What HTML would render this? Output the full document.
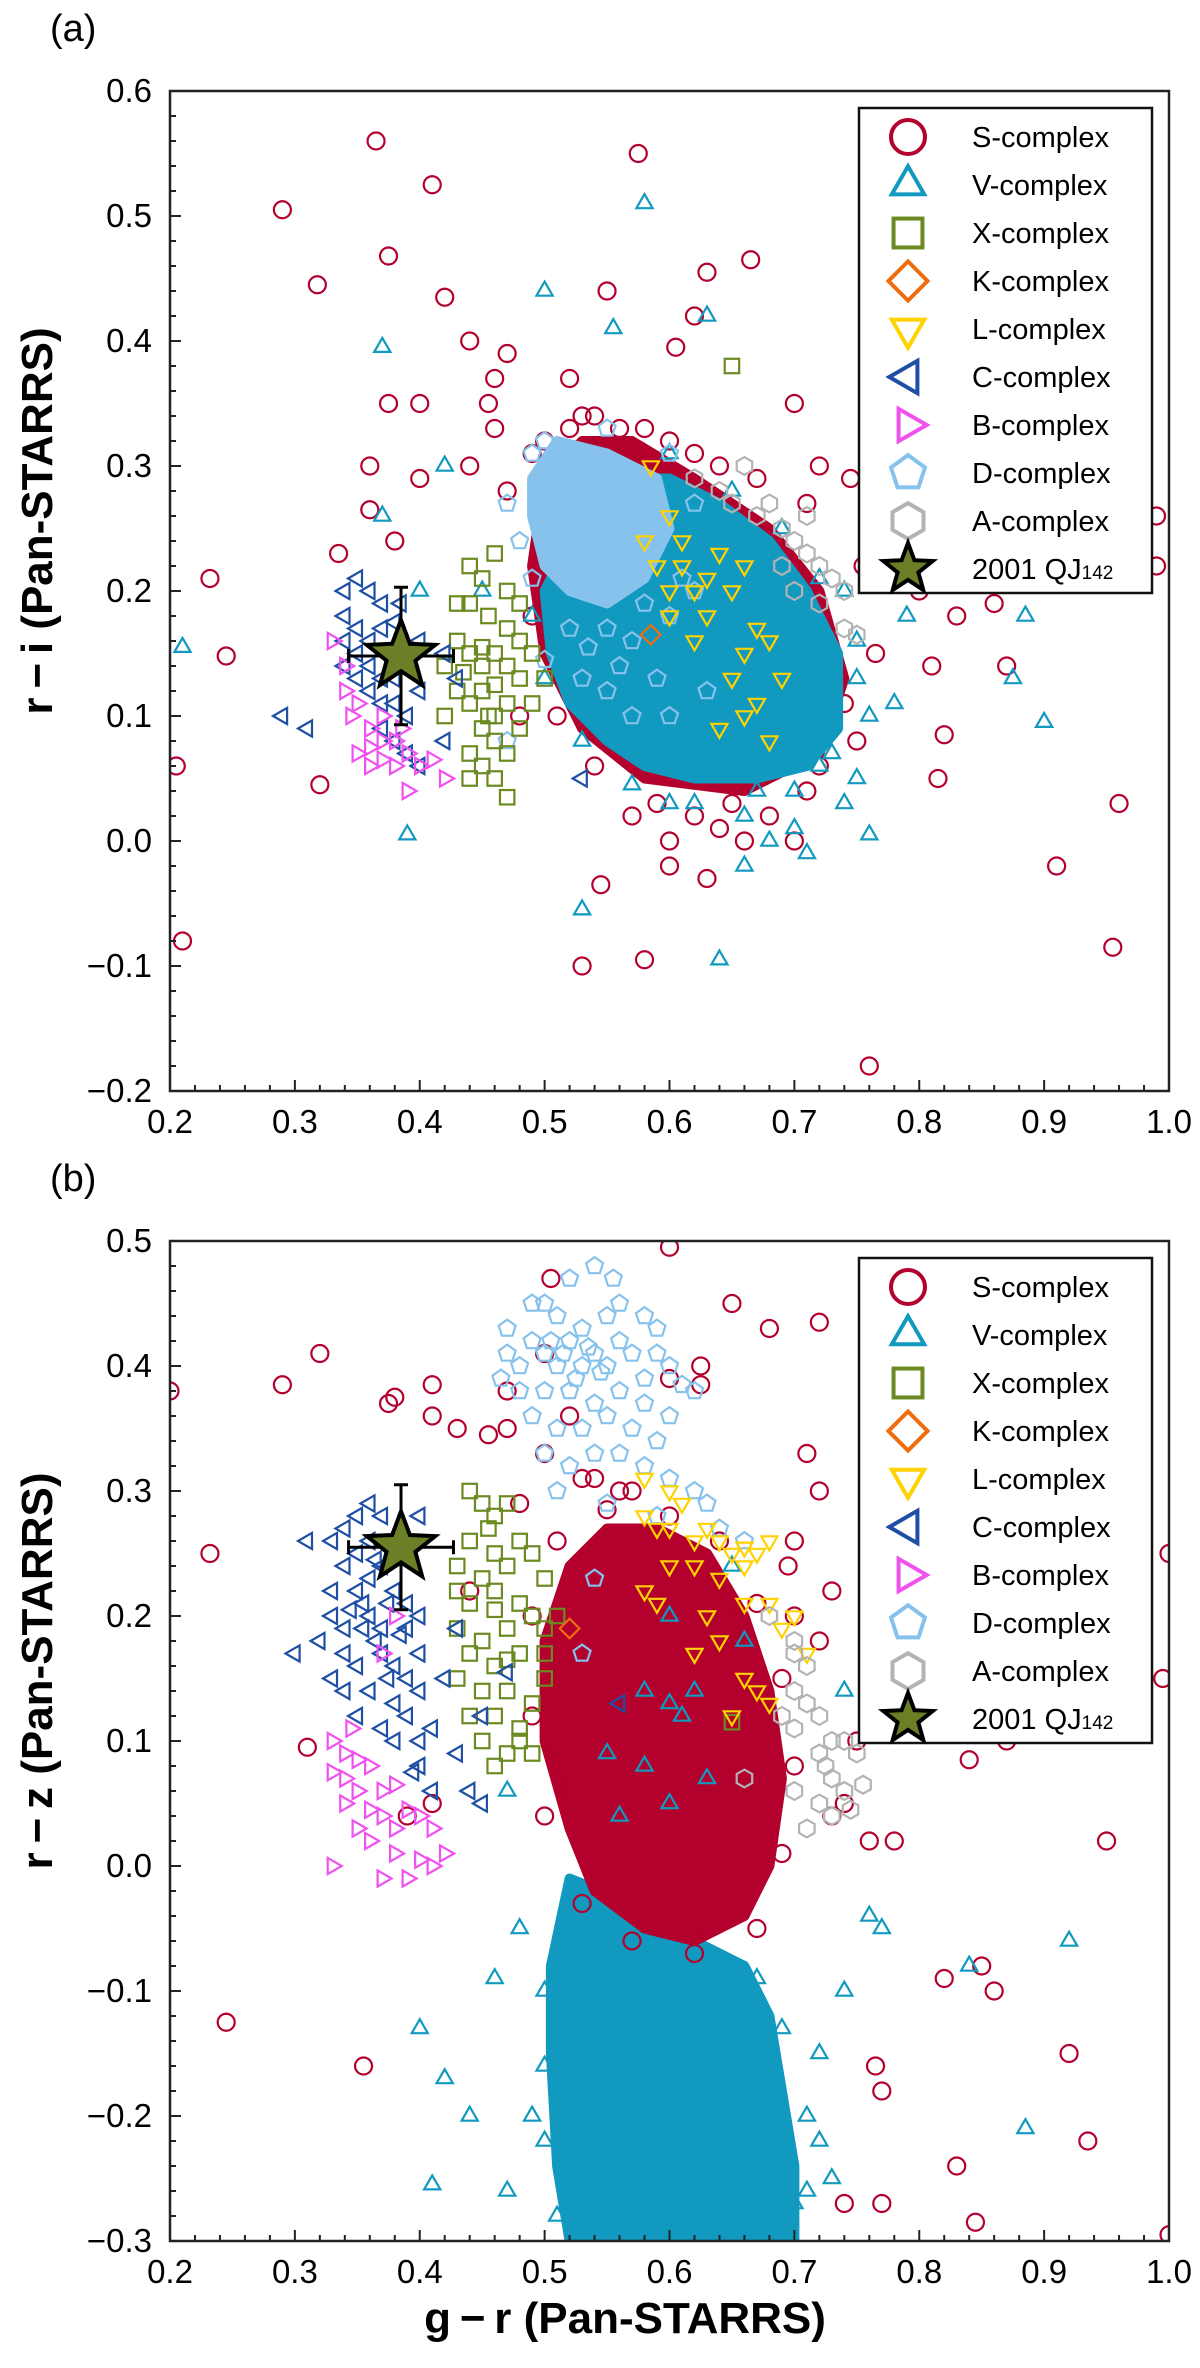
<!DOCTYPE html>
<html><head><meta charset="utf-8"><style>
html,body{margin:0;padding:0;background:#fff;}
svg{display:block;font-family:"Liberation Sans",Arial,sans-serif;}
</style></head><body>
<svg id="fig" width="1200" height="2368" viewBox="0 0 1200 2368" xmlns="http://www.w3.org/2000/svg"></svg>
<script>
// ---------- Panel (a) data: g-r vs r-i ----------
const sDenseA=[[0.5,0.29],[0.53,0.32],[0.57,0.32],[0.62,0.29],[0.68,0.25],[0.72,0.2],[0.74,0.13],[0.72,0.07],[0.66,0.04],[0.58,0.05],[0.53,0.09],[0.5,0.15],[0.49,0.22]];
const vDenseA=[[0.51,0.22],[0.54,0.26],[0.57,0.29],[0.6,0.29],[0.64,0.27],[0.68,0.24],[0.71,0.2],[0.735,0.15],[0.735,0.09],[0.71,0.06],[0.67,0.05],[0.62,0.05],[0.58,0.06],[0.55,0.08],[0.52,0.11],[0.505,0.15],[0.5,0.2]];
const dDenseA=[[0.49,0.29],[0.51,0.32],[0.55,0.31],[0.59,0.29],[0.6,0.25],[0.58,0.21],[0.55,0.19],[0.52,0.2],[0.5,0.22],[0.49,0.26]];
const sA=[[0.365,0.56],[0.29,0.505],[0.41,0.525],[0.575,0.55],[0.375,0.468],[0.318,0.445],[0.42,0.435],[0.63,0.455],[0.665,0.465],[0.205,0.06],[0.21,-0.08],[0.245,0.148],[0.232,0.21],[0.32,0.045],[0.335,0.23],[0.36,0.265],[0.4,0.29],[0.55,0.44],[0.62,0.42],[0.605,0.395],[0.47,0.39],[0.46,0.37],[0.44,0.4],[0.52,0.37],[0.53,0.34],[0.7,0.35],[0.72,0.3],[0.76,0.25],[0.78,0.24],[0.8,0.2],[0.83,0.18],[0.86,0.19],[0.87,0.14],[0.81,0.14],[0.82,0.085],[0.815,0.05],[0.96,0.03],[0.91,-0.02],[0.955,-0.085],[0.76,-0.18],[0.99,0.22],[0.99,0.26],[0.53,-0.1],[0.58,-0.095],[0.545,-0.035],[0.63,-0.03],[0.66,0.0],[0.6,0.0],[0.38,0.24],[0.48,0.1],[0.7,0.13],[0.73,0.15],[0.74,0.11],[0.375,0.35],[0.36,0.3],[0.44,0.3],[0.455,0.35],[0.46,0.33],[0.47,0.28],[0.49,0.31],[0.4,0.35],[0.745,0.29],[0.72,0.06],[0.68,0.02],[0.57,0.02],[0.5,0.32],[0.52,0.33],[0.54,0.34],[0.56,0.33],[0.58,0.33],[0.6,0.32],[0.62,0.31],[0.64,0.3],[0.67,0.29],[0.71,0.27],[0.755,0.22],[0.765,0.15],[0.75,0.08],[0.71,0.04],[0.65,0.03],[0.62,0.02],[0.59,0.03],[0.54,0.06],[0.51,0.1],[0.49,0.18],[0.53,0.3],[0.55,0.31],[0.57,0.31],[0.64,0.01],[0.7,0.0],[0.6,-0.02]];
const vA=[[0.21,0.155],[0.37,0.395],[0.58,0.51],[0.39,0.005],[0.53,-0.055],[0.64,-0.095],[0.76,0.005],[0.9,0.095],[0.875,0.13],[0.885,0.18],[0.5,0.44],[0.555,0.41],[0.63,0.42],[0.37,0.26],[0.42,0.3],[0.4,0.2],[0.45,0.2],[0.7,0.01],[0.74,0.03],[0.79,0.18],[0.75,0.05],[0.72,0.06],[0.68,0.0],[0.66,-0.02],[0.6,0.03],[0.71,-0.01],[0.78,0.11],[0.52,0.24],[0.55,0.28],[0.6,0.31],[0.65,0.28],[0.69,0.25],[0.72,0.21],[0.75,0.16],[0.76,0.1],[0.73,0.07],[0.67,0.04],[0.62,0.03],[0.57,0.045],[0.53,0.08],[0.5,0.13],[0.49,0.18],[0.74,0.2],[0.75,0.13],[0.66,0.02],[0.7,0.04]];
const xA=[[0.44,0.22],[0.45,0.21],[0.46,0.23],[0.47,0.2],[0.44,0.19],[0.455,0.18],[0.47,0.17],[0.48,0.16],[0.43,0.16],[0.44,0.15],[0.45,0.14],[0.46,0.15],[0.47,0.14],[0.48,0.13],[0.43,0.12],[0.44,0.11],[0.45,0.12],[0.46,0.1],[0.47,0.11],[0.45,0.09],[0.46,0.08],[0.44,0.07],[0.45,0.06],[0.46,0.05],[0.44,0.05],[0.47,0.035],[0.42,0.1],[0.42,0.14],[0.43,0.19],[0.49,0.15],[0.49,0.11],[0.5,0.13],[0.48,0.19],[0.45,0.155],[0.46,0.125],[0.65,0.38],[0.435,0.135],[0.455,0.1],[0.47,0.07],[0.48,0.09]];
const kA=[[0.585,0.165]];
const lA=[[0.585,0.3],[0.6,0.26],[0.58,0.24],[0.61,0.24],[0.59,0.22],[0.6,0.2],[0.62,0.2],[0.63,0.21],[0.64,0.23],[0.6,0.18],[0.63,0.18],[0.65,0.2],[0.66,0.22],[0.67,0.17],[0.66,0.15],[0.68,0.16],[0.65,0.13],[0.66,0.1],[0.67,0.11],[0.69,0.13],[0.68,0.08],[0.64,0.09],[0.62,0.16],[0.61,0.22]];
const cA=[[0.34,0.2],[0.35,0.21],[0.36,0.2],[0.37,0.19],[0.34,0.18],[0.35,0.17],[0.36,0.16],[0.37,0.17],[0.38,0.15],[0.34,0.14],[0.35,0.13],[0.36,0.12],[0.37,0.13],[0.38,0.11],[0.39,0.1],[0.37,0.09],[0.38,0.08],[0.39,0.07],[0.4,0.06],[0.39,0.14],[0.4,0.12],[0.36,0.14],[0.35,0.15],[0.38,0.13],[0.34,0.16],[0.385,0.19],[0.4,0.16],[0.29,0.1],[0.31,0.09],[0.42,0.08],[0.43,0.13],[0.53,0.05],[0.42,0.15],[0.38,0.175],[0.37,0.11]];
const bA=[[0.33,0.16],[0.34,0.14],[0.34,0.12],[0.35,0.11],[0.36,0.09],[0.37,0.1],[0.38,0.08],[0.39,0.07],[0.35,0.07],[0.36,0.06],[0.37,0.065],[0.38,0.06],[0.4,0.06],[0.41,0.065],[0.42,0.05],[0.39,0.04],[0.345,0.1],[0.36,0.075],[0.37,0.08],[0.385,0.09]];
const dA=[[0.49,0.31],[0.53,0.13],[0.55,0.12],[0.57,0.1],[0.6,0.18],[0.62,0.2],[0.63,0.12],[0.6,0.1],[0.47,0.08],[0.5,0.145],[0.56,0.14],[0.59,0.13],[0.535,0.155],[0.47,0.27],[0.5,0.32],[0.55,0.33],[0.6,0.31],[0.62,0.27],[0.61,0.21],[0.57,0.16],[0.52,0.17],[0.49,0.21],[0.48,0.24],[0.55,0.17],[0.58,0.19]];
const aA=[[0.62,0.29],[0.64,0.28],[0.66,0.3],[0.67,0.26],[0.68,0.27],[0.69,0.25],[0.7,0.24],[0.71,0.23],[0.72,0.22],[0.73,0.21],[0.74,0.2],[0.7,0.2],[0.72,0.19],[0.74,0.17],[0.75,0.165],[0.65,0.27],[0.69,0.22],[0.71,0.26]];
const starA=[0.385,0.148]; const starErrA=[0.042,0.055];

// ---------- Panel (b) data: g-r vs r-z ----------
const sDenseB=[[0.52,0.24],[0.55,0.27],[0.59,0.27],[0.63,0.25],[0.66,0.2],[0.68,0.14],[0.69,0.07],[0.68,0.0],[0.66,-0.04],[0.62,-0.06],[0.58,-0.05],[0.54,-0.02],[0.52,0.03],[0.5,0.1],[0.5,0.18]];
const vDenseB=[[0.52,-0.01],[0.57,-0.03],[0.62,-0.06],[0.66,-0.08],[0.68,-0.12],[0.69,-0.18],[0.7,-0.24],[0.7,-0.3],[0.52,-0.3],[0.51,-0.24],[0.505,-0.15],[0.505,-0.08]];
const sB=[[0.2,0.38],[0.232,0.25],[0.245,-0.125],[0.29,0.385],[0.32,0.41],[0.355,-0.16],[0.31,0.095],[0.375,0.37],[0.38,0.375],[0.41,0.385],[0.43,0.35],[0.455,0.345],[0.47,0.35],[0.41,0.36],[0.5,0.41],[0.505,0.47],[0.6,0.495],[0.625,0.4],[0.625,0.385],[0.65,0.45],[0.68,0.43],[0.71,0.33],[0.72,0.30],[0.73,0.22],[0.75,0.1],[0.74,0.05],[0.76,0.02],[0.78,0.02],[0.8,0.13],[0.85,0.145],[0.84,0.085],[0.87,0.1],[0.9,0.17],[0.95,0.02],[1.0,0.25],[0.995,0.15],[0.92,-0.15],[0.935,-0.22],[0.86,-0.1],[0.85,-0.08],[0.82,-0.09],[0.83,-0.24],[0.845,-0.285],[0.77,-0.27],[0.74,-0.27],[0.765,-0.16],[0.77,-0.18],[0.72,0.435],[0.6,0.39],[0.54,0.31],[0.56,0.3],[0.48,0.29],[0.5,0.33],[0.52,0.36],[0.53,0.31],[0.57,0.3],[0.47,0.38],[0.7,0.26],[0.7,0.2],[0.72,0.18],[0.44,0.22],[0.41,0.05],[0.39,0.04],[0.73,0.04],[0.76,0.13],[0.695,0.24],[1.0,-0.295],[0.51,0.26],[0.55,0.285],[0.6,0.28],[0.64,0.26],[0.67,0.21],[0.69,0.15],[0.7,0.08],[0.69,0.01],[0.67,-0.05],[0.62,-0.07],[0.57,-0.06],[0.53,-0.03],[0.5,0.04],[0.49,0.12],[0.49,0.2]];
const vB=[[0.55,0.09],[0.6,0.2],[0.58,0.14],[0.61,0.12],[0.58,0.08],[0.63,0.07],[0.56,0.04],[0.6,0.05],[0.62,0.14],[0.6,0.13],[0.4,-0.13],[0.42,-0.17],[0.44,-0.2],[0.41,-0.255],[0.46,-0.09],[0.48,-0.05],[0.47,0.06],[0.74,-0.1],[0.76,-0.04],[0.77,-0.05],[0.84,-0.08],[0.885,-0.21],[0.92,-0.06],[0.72,-0.22],[0.73,-0.25],[0.65,0.24],[0.66,0.18],[0.74,0.14],[0.72,-0.15],[0.7,-0.27],[0.49,-0.2],[0.47,-0.26],[0.5,-0.1],[0.5,-0.16],[0.5,-0.22],[0.51,-0.28],[0.71,-0.2],[0.71,-0.26],[0.69,-0.13],[0.67,-0.09],[0.52,-0.04]];
const xB=[[0.44,0.3],[0.45,0.29],[0.46,0.28],[0.47,0.29],[0.455,0.27],[0.44,0.26],[0.46,0.25],[0.48,0.26],[0.49,0.25],[0.43,0.24],[0.45,0.23],[0.47,0.24],[0.5,0.23],[0.43,0.22],[0.44,0.21],[0.46,0.22],[0.48,0.21],[0.49,0.2],[0.5,0.19],[0.43,0.19],[0.45,0.18],[0.47,0.19],[0.44,0.17],[0.46,0.16],[0.48,0.17],[0.5,0.15],[0.43,0.15],[0.45,0.14],[0.47,0.14],[0.49,0.13],[0.44,0.12],[0.46,0.12],[0.48,0.11],[0.45,0.1],[0.47,0.09],[0.46,0.08],[0.48,0.1],[0.49,0.09],[0.51,0.2],[0.5,0.17],[0.65,0.115],[0.46,0.205],[0.47,0.165]];
const kB=[[0.52,0.19]];
const lB=[[0.58,0.31],[0.6,0.3],[0.61,0.29],[0.58,0.28],[0.59,0.27],[0.6,0.27],[0.62,0.26],[0.63,0.27],[0.64,0.26],[0.65,0.25],[0.66,0.255],[0.67,0.25],[0.68,0.26],[0.6,0.24],[0.62,0.24],[0.64,0.23],[0.66,0.24],[0.58,0.22],[0.59,0.21],[0.63,0.2],[0.64,0.18],[0.66,0.15],[0.67,0.14],[0.68,0.21],[0.7,0.2],[0.69,0.19],[0.68,0.13],[0.71,0.17],[0.65,0.12],[0.66,0.21],[0.62,0.17]];
const cB=[[0.35,0.28],[0.36,0.29],[0.37,0.28],[0.34,0.27],[0.36,0.26],[0.33,0.26],[0.31,0.26],[0.35,0.25],[0.37,0.24],[0.38,0.26],[0.34,0.24],[0.33,0.22],[0.35,0.22],[0.36,0.23],[0.38,0.22],[0.39,0.21],[0.33,0.2],[0.34,0.19],[0.36,0.2],[0.37,0.19],[0.39,0.19],[0.4,0.2],[0.32,0.18],[0.34,0.17],[0.35,0.16],[0.37,0.17],[0.38,0.16],[0.39,0.15],[0.4,0.17],[0.33,0.15],[0.34,0.14],[0.36,0.14],[0.38,0.13],[0.4,0.14],[0.35,0.12],[0.37,0.11],[0.39,0.12],[0.4,0.1],[0.41,0.11],[0.38,0.1],[0.4,0.08],[0.395,0.075],[0.3,0.17],[0.42,0.15],[0.43,0.19],[0.41,0.06],[0.43,0.09],[0.44,0.06],[0.45,0.05],[0.45,0.12],[0.47,0.155],[0.4,0.28],[0.355,0.21],[0.365,0.18],[0.375,0.15],[0.355,0.19],[0.375,0.21],[0.365,0.245],[0.385,0.185],[0.345,0.205],[0.56,0.13]];
const bB=[[0.33,0.1],[0.34,0.09],[0.35,0.085],[0.36,0.08],[0.33,0.075],[0.34,0.07],[0.35,0.06],[0.37,0.06],[0.38,0.065],[0.34,0.05],[0.36,0.045],[0.37,0.04],[0.38,0.03],[0.39,0.045],[0.4,0.04],[0.41,0.03],[0.42,0.01],[0.36,0.02],[0.38,0.01],[0.4,0.005],[0.41,0.0],[0.35,0.03],[0.33,0.0],[0.37,-0.01],[0.39,-0.01],[0.345,0.11],[0.38,0.2],[0.37,0.17]];
const dB=[[0.54,0.48],[0.52,0.47],[0.555,0.47],[0.49,0.45],[0.5,0.45],[0.56,0.45],[0.58,0.44],[0.47,0.43],[0.51,0.44],[0.53,0.43],[0.55,0.44],[0.59,0.43],[0.47,0.41],[0.48,0.4],[0.49,0.42],[0.5,0.41],[0.51,0.4],[0.52,0.42],[0.53,0.4],[0.54,0.41],[0.55,0.4],[0.56,0.42],[0.57,0.41],[0.58,0.39],[0.59,0.41],[0.6,0.4],[0.61,0.385],[0.62,0.38],[0.465,0.39],[0.48,0.38],[0.5,0.38],[0.52,0.38],[0.54,0.37],[0.56,0.38],[0.58,0.37],[0.6,0.36],[0.49,0.36],[0.51,0.35],[0.53,0.35],[0.55,0.36],[0.57,0.35],[0.59,0.34],[0.5,0.33],[0.52,0.32],[0.54,0.33],[0.56,0.33],[0.58,0.32],[0.6,0.31],[0.62,0.3],[0.63,0.29],[0.51,0.3],[0.55,0.29],[0.59,0.28],[0.64,0.27],[0.66,0.26],[0.54,0.23],[0.53,0.17],[0.505,0.42],[0.525,0.39],[0.545,0.395],[0.535,0.415],[0.515,0.41]];
const aB=[[0.68,0.2],[0.7,0.18],[0.7,0.17],[0.71,0.16],[0.7,0.14],[0.71,0.13],[0.69,0.12],[0.72,0.12],[0.73,0.1],[0.7,0.11],[0.72,0.09],[0.74,0.1],[0.73,0.07],[0.74,0.06],[0.75,0.09],[0.72,0.05],[0.73,0.04],[0.7,0.06],[0.71,0.03],[0.66,0.07],[0.725,0.08],[0.745,0.045],[0.755,0.065]];
const starB=[0.385,0.255]; const starErrB=[0.042,0.05];

const xTicks=[0.2,0.3,0.4,0.5,0.6,0.7,0.8,0.9,1.0];
const xTickLabels=["0.2","0.3","0.4","0.5","0.6","0.7","0.8","0.9","1.0"];
const yTicksA=[0.6,0.5,0.4,0.3,0.2,0.1,0.0,-0.1,-0.2];
const yTickLabelsA=["0.6","0.5","0.4","0.3","0.2","0.1","0.0","\u22120.1","\u22120.2"];
const yTicksB=[0.5,0.4,0.3,0.2,0.1,0.0,-0.1,-0.2,-0.3];
const yTickLabelsB=["0.5","0.4","0.3","0.2","0.1","0.0","\u22120.1","\u22120.2","\u22120.3"];
const legendNames=["S-complex","V-complex","X-complex","K-complex","L-complex","C-complex","B-complex","D-complex","A-complex"];

const NS="http://www.w3.org/2000/svg";
const svg=document.getElementById('fig');
const COL={S:"#b3002d",V:"#1199bf",X:"#6b8a22",K:"#ef6c0f",L:"#ffd200",C:"#1e4fa4",B:"#f052f0",D:"#86c2ec",A:"#b3b3b3",star:"#6b7f26"};
const SHAPE={S:"circle",V:"tup",X:"square",K:"diamond",L:"tdown",C:"tleft",B:"tright",D:"pent",A:"hex"};

function el(tag,attrs,parent){const e=document.createElementNS(NS,tag);for(const k in attrs)e.setAttribute(k,attrs[k]);(parent||svg).appendChild(e);return e;}
function poly(n,r,rot){const p=[];for(let i=0;i<n;i++){const a=rot+i*2*Math.PI/n;p.push([r*Math.cos(a),r*Math.sin(a)]);}return p;}
function marker(shape,cx,cy,r,color,sw,parent){
  let e;
  const pts=a=>a.map(p=>(cx+p[0]).toFixed(1)+","+(cy+p[1]).toFixed(1)).join(" ");
  if(shape==="circle")e=el('circle',{cx:cx,cy:cy,r:r},parent);
  else if(shape==="square")e=el('rect',{x:cx-r*0.85,y:cy-r*0.85,width:r*1.7,height:r*1.7},parent);
  else if(shape==="diamond")e=el('polygon',{points:pts([[0,-r*1.15],[r*1.15,0],[0,r*1.15],[-r*1.15,0]])},parent);
  else if(shape==="tup")e=el('polygon',{points:pts(poly(3,r*1.1,-Math.PI/2))},parent);
  else if(shape==="tdown")e=el('polygon',{points:pts(poly(3,r*1.1,Math.PI/2))},parent);
  else if(shape==="tleft")e=el('polygon',{points:pts(poly(3,r*1.1,Math.PI))},parent);
  else if(shape==="tright")e=el('polygon',{points:pts(poly(3,r*1.1,0))},parent);
  else if(shape==="pent")e=el('polygon',{points:pts(poly(5,r*1.05,-Math.PI/2))},parent);
  else if(shape==="hex")e=el('polygon',{points:pts(poly(6,r*1.05,-Math.PI/2))},parent);
  e.setAttribute('fill','none');e.setAttribute('stroke',color);e.setAttribute('stroke-width',sw);
  return e;
}
function starPts(cx,cy,R){const a=[];for(let i=0;i<10;i++){const rr=i%2?R*0.42:R;const t=-Math.PI/2+i*Math.PI/5;a.push((cx+rr*Math.cos(t)).toFixed(1)+","+(cy+rr*Math.sin(t)).toFixed(1));}return a.join(" ");}

function makePanel(cfg){
  const L=170,R=1169,T=cfg.top,B=cfg.top+1000;
  const X=v=>L+(v-0.2)*(R-L)/0.8;
  const Y=v=>T+(cfg.ymax-v)*1000/0.8;
  const g=el('g',{});
  
  
  const clip=el('clipPath',{id:'clip'+cfg.id},g);el('rect',{x:L,y:T,width:R-L,height:B-T},clip);
  const plot=el('g',{'clip-path':'url(#clip'+cfg.id+')'},g);
  
  
  function dense(arr,key){
    const p=el('polygon',{points:arr.map(d=>X(d[0]).toFixed(1)+","+Y(d[1]).toFixed(1)).join(" "),fill:COL[key],stroke:COL[key],'stroke-width':10,'stroke-linejoin':'round'},plot);
    
    
  }
  function series(arr,key){
    const sg=el('g',{},plot);
    
    
    arr.forEach(d=>{const m=marker(SHAPE[key],X(d[0]),Y(d[1]),8.5,COL[key],2.2,sg);
      
      });
  }
  cfg.draw(dense,series);
  const sx=X(cfg.star[0]),sy=Y(cfg.star[1]);
  const eg=el('g',{stroke:'#000','stroke-width':3},plot);
  
  
  const ex0=X(cfg.star[0]-cfg.err[0]),ex1=X(cfg.star[0]+cfg.err[0]),ey0=Y(cfg.star[1]+cfg.err[1]),ey1=Y(cfg.star[1]-cfg.err[1]);
  el('line',{x1:ex0,y1:sy,x2:ex1,y2:sy},eg);el('line',{x1:sx,y1:ey0,x2:sx,y2:ey1},eg);
  el('line',{x1:ex0,y1:sy-7,x2:ex0,y2:sy+7},eg);el('line',{x1:ex1,y1:sy-7,x2:ex1,y2:sy+7},eg);
  el('line',{x1:sx-7,y1:ey0,x2:sx+7,y2:ey0},eg);el('line',{x1:sx-7,y1:ey1,x2:sx+7,y2:ey1},eg);
  const st=el('polygon',{points:starPts(sx,sy,36),fill:COL.star,stroke:'#000','stroke-width':4,'stroke-linejoin':'miter'},plot);
  
  
  const fr=el('rect',{x:L,y:T,width:R-L,height:B-T,fill:'none',stroke:'#222','stroke-width':2.5},g);
  
  
  for(let i=0;i<=40;i++){const v=0.2+i*0.02;const x=X(v);const maj=i%5===0;el('line',{x1:x,y1:B,x2:x,y2:B-(maj?11:6),stroke:'#222','stroke-width':2},g);}
  xTicks.forEach((v,i)=>{const t=el('text',{x:X(v),y:B+42,'font-size':33,'text-anchor':'middle',fill:'#000'},g);t.textContent=xTickLabels[i];
    });
  for(let i=0;i<=40;i++){const y=T+i*25;const maj=i%5===0;el('line',{x1:L,y1:y,x2:L+(maj?11:6),y2:y,stroke:'#222','stroke-width':2},g);}
  cfg.yt.forEach((v,i)=>{const t=el('text',{x:152,y:Y(v)+11,'font-size':33,'text-anchor':'end',fill:'#000'},g);t.textContent=cfg.ytl[i];
    });
  const yt=el('text',{x:0,y:0,'font-size':44,'font-weight':'bold','text-anchor':'middle',transform:'translate(52,'+(T+430)+') rotate(-90)'},g);
  yt.textContent=cfg.ytitle;
  
  
  const pl=el('text',{x:50,y:cfg.top-50,'font-size':38},g);pl.textContent=cfg.label;
  
  
  const lg=el('g',{},g);
  
  
  el('rect',{x:859,y:T+17,width:293,height:485,fill:'#fff',stroke:'#111','stroke-width':2.5},lg);
  const keys=["S","V","X","K","L","C","B","D","A"];
  keys.forEach((k,i)=>{const cy=T+46+i*48;
    const m=marker(SHAPE[k],908,cy,17,COL[k],4,lg);
    
    
    const t=el('text',{x:972,y:cy+10,'font-size':29,fill:'#000'},lg);t.textContent=legendNames[i];
    
    });
  const cy=T+46+9*48;
  el('polygon',{points:starPts(908,cy,26),fill:COL.star,stroke:'#000','stroke-width':4},lg);
  const t=el('text',{x:972,y:cy+10,'font-size':29,fill:'#000'},lg);t.innerHTML='2001 QJ<tspan font-size="19">142</tspan>';
  
  
}

makePanel({id:'a',name:'panel-a-r-i',top:91,ymax:0.6,label:'(a)',yt:yTicksA,ytl:yTickLabelsA,ytitle:'r\u2009\u2212\u2009i  (Pan-STARRS)',star:starA,err:starErrA,
  draw:(dense,series)=>{series(sA,'S');dense(sDenseA,'S');series(vA,'V');dense(vDenseA,'V');dense(dDenseA,'D');series(dA,'D');series(xA,'X');series(kA,'K');series(cA,'C');series(bA,'B');series(lA,'L');series(aA,'A');}});
makePanel({id:'b',name:'panel-b-r-z',top:1241,ymax:0.5,label:'(b)',yt:yTicksB,ytl:yTickLabelsB,ytitle:'r\u2009\u2212\u2009z  (Pan-STARRS)',star:starB,err:starErrB,
  draw:(dense,series)=>{dense(vDenseB,'V');series(sB,'S');dense(sDenseB,'S');series(vB,'V');series(dB,'D');series(xB,'X');series(kB,'K');series(cB,'C');series(bB,'B');series(lB,'L');series(aB,'A');}});

const xt=el('text',{x:625,y:2333,'font-size':44,'font-weight':'bold','text-anchor':'middle'});
xt.textContent='g\u2009\u2212\u2009r  (Pan-STARRS)';


</script>
</body></html>
